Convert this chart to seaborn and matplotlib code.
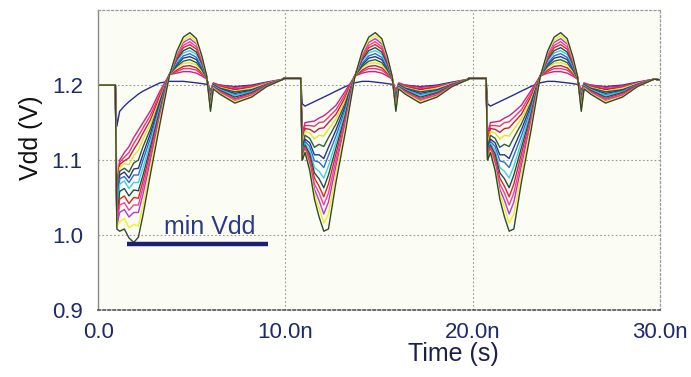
import numpy as np
import matplotlib
matplotlib.use("Agg")
import matplotlib.pyplot as plt
import seaborn as sns
import pandas as pd

# ---- data (V vs ns) ----
period_start = [0.0, 9.9, 19.8]
pre_level = [1.200, 1.209, 1.209]
tail_t = 30.0
tail_v = 1.207

pre_t = [0.0, 0.92]
fan_t = [1.0, 1.15, 1.4, 1.65, 1.9, 2.15, 2.4, 2.8, 3.3, 3.8]
rest_t = [4.2, 4.55, 4.9, 5.25, 5.55, 5.8, 6.0, 6.15, 6.5, 7.3, 8.2, 9.0, 9.9]

# droop of the first pulse, one row per curve (mild -> severe)
fan_first = [
    [1.145, 1.165, 1.172, 1.178, 1.183, 1.188, 1.192, 1.197, 1.203, 1.205],
    [1.060, 1.100, 1.110, 1.118, 1.130, 1.140, 1.150, 1.166, 1.192, 1.214],
    [1.050, 1.097, 1.104, 1.110, 1.122, 1.132, 1.143, 1.160, 1.188, 1.214],
    [1.040, 1.094, 1.099, 1.103, 1.114, 1.124, 1.136, 1.154, 1.185, 1.214],
    [1.030, 1.090, 1.095, 1.094, 1.106, 1.113, 1.128, 1.148, 1.182, 1.214],
    [1.025, 1.085, 1.089, 1.084, 1.096, 1.100, 1.118, 1.142, 1.179, 1.214],
    [1.020, 1.080, 1.084, 1.076, 1.088, 1.089, 1.108, 1.136, 1.176, 1.214],
    [1.020, 1.075, 1.078, 1.070, 1.080, 1.080, 1.100, 1.130, 1.173, 1.214],
    [1.020, 1.068, 1.072, 1.062, 1.070, 1.070, 1.090, 1.124, 1.170, 1.214],
    [1.015, 1.058, 1.062, 1.052, 1.060, 1.059, 1.080, 1.118, 1.167, 1.214],
    [1.015, 1.048, 1.052, 1.042, 1.050, 1.049, 1.072, 1.112, 1.164, 1.214],
    [1.012, 1.040, 1.043, 1.033, 1.040, 1.040, 1.064, 1.106, 1.161, 1.213],
    [1.012, 1.030, 1.034, 1.024, 1.030, 1.030, 1.055, 1.100, 1.158, 1.213],
    [1.010, 1.018, 1.022, 1.010, 1.014, 1.012, 1.040, 1.092, 1.154, 1.212],
    [1.008, 1.005, 1.008, 0.996, 0.990, 0.997, 1.027, 1.082, 1.148, 1.212],
]

# droop of the 2nd and 3rd pulses
fan_later = [
    [1.175, 1.172, 1.175, 1.178, 1.181, 1.184, 1.187, 1.192, 1.198, 1.203],
    [1.135, 1.150, 1.151, 1.152, 1.156, 1.159, 1.164, 1.173, 1.192, 1.212],
    [1.130, 1.146, 1.146, 1.145, 1.150, 1.151, 1.157, 1.167, 1.188, 1.212],
    [1.125, 1.142, 1.141, 1.137, 1.142, 1.143, 1.150, 1.161, 1.184, 1.212],
    [1.120, 1.138, 1.136, 1.128, 1.133, 1.132, 1.141, 1.155, 1.180, 1.212],
    [1.115, 1.133, 1.129, 1.117, 1.121, 1.118, 1.130, 1.148, 1.176, 1.212],
    [1.110, 1.128, 1.123, 1.107, 1.107, 1.102, 1.117, 1.140, 1.172, 1.212],
    [1.105, 1.125, 1.118, 1.099, 1.097, 1.090, 1.106, 1.132, 1.168, 1.212],
    [1.100, 1.122, 1.113, 1.090, 1.085, 1.076, 1.092, 1.124, 1.164, 1.212],
    [1.100, 1.120, 1.108, 1.083, 1.075, 1.063, 1.080, 1.116, 1.160, 1.212],
    [1.100, 1.118, 1.103, 1.076, 1.065, 1.051, 1.068, 1.108, 1.156, 1.212],
    [1.100, 1.116, 1.099, 1.068, 1.056, 1.040, 1.056, 1.100, 1.152, 1.211],
    [1.100, 1.114, 1.095, 1.061, 1.046, 1.028, 1.044, 1.092, 1.148, 1.211],
    [1.100, 1.112, 1.090, 1.055, 1.036, 1.016, 1.028, 1.082, 1.143, 1.210],
    [1.100, 1.110, 1.086, 1.048, 1.024, 1.005, 1.008, 1.070, 1.137, 1.210],
]

# overshoot, glitch and settling, same for every pulse
rest = [
    [1.205, 1.205, 1.204, 1.203, 1.202, 1.201, 1.194, 1.200, 1.200, 1.198, 1.200, 1.204, 1.208],
    [1.216, 1.218, 1.218, 1.216, 1.212, 1.208, 1.192, 1.203, 1.200, 1.197, 1.199, 1.203, 1.208],
    [1.218, 1.222, 1.222, 1.220, 1.214, 1.208, 1.190, 1.202, 1.199, 1.195, 1.198, 1.203, 1.208],
    [1.220, 1.225, 1.226, 1.223, 1.216, 1.209, 1.188, 1.202, 1.198, 1.194, 1.197, 1.202, 1.208],
    [1.223, 1.229, 1.230, 1.227, 1.218, 1.209, 1.186, 1.201, 1.197, 1.192, 1.196, 1.202, 1.208],
    [1.225, 1.232, 1.234, 1.230, 1.220, 1.209, 1.184, 1.201, 1.196, 1.191, 1.194, 1.201, 1.208],
    [1.227, 1.236, 1.238, 1.234, 1.222, 1.210, 1.182, 1.200, 1.195, 1.189, 1.193, 1.201, 1.208],
    [1.229, 1.239, 1.242, 1.237, 1.224, 1.210, 1.180, 1.199, 1.194, 1.187, 1.192, 1.201, 1.208],
    [1.232, 1.243, 1.246, 1.241, 1.226, 1.210, 1.177, 1.199, 1.194, 1.186, 1.191, 1.200, 1.208],
    [1.234, 1.246, 1.250, 1.244, 1.228, 1.210, 1.175, 1.198, 1.193, 1.184, 1.190, 1.200, 1.208],
    [1.236, 1.250, 1.254, 1.248, 1.230, 1.211, 1.173, 1.197, 1.192, 1.182, 1.189, 1.200, 1.208],
    [1.238, 1.253, 1.258, 1.251, 1.232, 1.211, 1.171, 1.197, 1.191, 1.181, 1.187, 1.199, 1.208],
    [1.241, 1.257, 1.262, 1.255, 1.234, 1.211, 1.169, 1.196, 1.190, 1.179, 1.186, 1.199, 1.208],
    [1.243, 1.260, 1.266, 1.258, 1.236, 1.212, 1.167, 1.196, 1.189, 1.178, 1.185, 1.198, 1.208],
    [1.245, 1.264, 1.270, 1.262, 1.238, 1.212, 1.165, 1.195, 1.188, 1.176, 1.184, 1.198, 1.208],
]

colors = ['#2b2d8c', '#d01f8c', '#e83a6a', '#c81e3a', '#e6e22a', '#2e5e3a', '#25368a',
          '#2a6fd6', '#3fd0df', '#1f4f4a', '#e02424', '#f03fa0', '#b838c8', '#f2ef1c', '#2e4a2e']

xticks = [0, 10, 20, 30]
xtick_labels = ['0.0', '10.0n', '20.0n', '30.0n']
yticks = [0.9, 1.0, 1.1, 1.2]
ytick_labels = ['0.9', '1.0', '1.1', '1.2']

minvdd_x = [1.55, 9.05]
minvdd_y = 0.988

# build long table
rows = []
for k in range(len(colors)):
    for p, t0 in enumerate(period_start):
        fan = fan_first[k] if p == 0 else fan_later[k]
        tt = pre_t + fan_t + rest_t
        vv = [pre_level[p], pre_level[p]] + fan + rest[k]
        for t, v in zip(tt, vv):
            rows.append((k, t0 + t, v))
    rows.append((k, tail_t, tail_v))
df = pd.DataFrame(rows, columns=['curve', 'time', 'vdd'])

sns.set_style("white")
plt.rcParams['font.family'] = ['Liberation Sans', 'DejaVu Sans']

fig, ax = plt.subplots(figsize=(6.91, 3.77), dpi=100)
fig.subplots_adjust(left=0.142, right=0.955, bottom=0.178, top=0.973)
ax.set_facecolor('#fbfcf3')

sns.lineplot(data=df, x='time', y='vdd', hue='curve', palette=colors,
             estimator=None, sort=False, legend=False, linewidth=1.0, ax=ax)

ax.set_xlim(0, 30)
ax.set_ylim(0.9, 1.3)
ax.set_xticks(xticks)
ax.set_xticklabels(xtick_labels)
ax.set_yticks(yticks)
ax.set_yticklabels(ytick_labels)
ax.tick_params(axis='both', labelsize=16, labelcolor='#1d2a6b', color='#888888',
               length=3, width=0.8)
ax.tick_params(axis='x', pad=6)
ax.tick_params(axis='y', pad=8)
ax.grid(True, linestyle=(0, (1.5, 2)), color='#9a9a9a', linewidth=0.8)

for side in ['top', 'right']:
    ax.spines[side].set_linestyle((0, (1.5, 2)))
    ax.spines[side].set_color('#9a9a9a')
    ax.spines[side].set_linewidth(0.9)
ax.spines['bottom'].set_linestyle((0, (1.5, 1.5)))
ax.spines['bottom'].set_color('#555555')
ax.spines['bottom'].set_linewidth(1.2)
ax.spines['left'].set_color('#8a8a8a')
ax.spines['left'].set_linewidth(1.0)

ax.set_xlabel('Time (s)', fontsize=18, color='#1a1f4e')
ax.set_ylabel('Vdd (V)', fontsize=18, color='#111111')
ax.xaxis.set_label_coords(0.632, -0.108)
ax.yaxis.set_label_coords(-0.098, 0.573)

# "min Vdd" marker
ax.hlines(minvdd_y, minvdd_x[0], minvdd_x[1], color='#1c1f73', linewidth=3.2, zorder=5)
ax.text(3.5, minvdd_y + 0.006, 'min Vdd', fontsize=18, color='#2a3a8a',
        ha='left', va='bottom', zorder=5)

plt.savefig('out.png', dpi=100)
